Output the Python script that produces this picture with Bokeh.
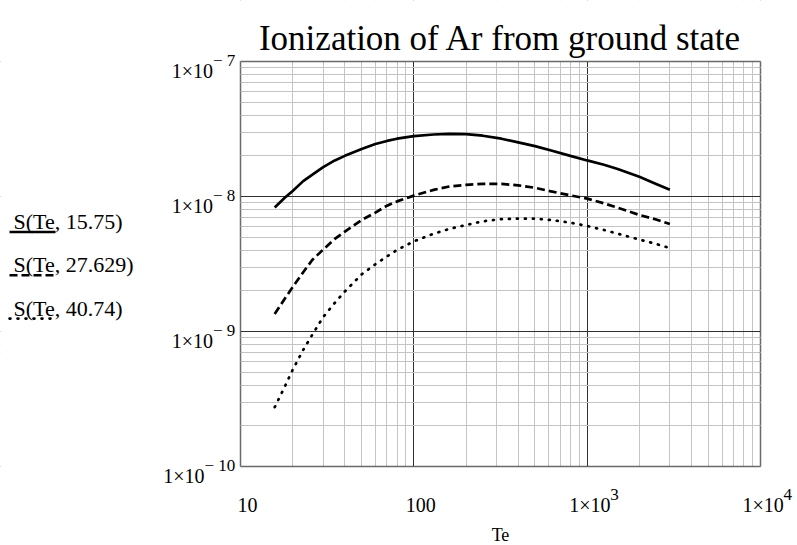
from bokeh.plotting import figure
from bokeh.models import (FixedTicker, Grid, Range1d, BoxAnnotation,
                          ColumnDataSource)
from bokeh.core.properties import value
from bokeh.embed import file_html
from bokeh.resources import INLINE

# ---- data ----
Te = [15.75, 18, 20, 23, 26, 30, 35, 40, 50, 60, 70, 80, 100, 130, 160, 200,
      250, 320, 400, 500, 620, 800, 1000, 1250, 1500, 2000, 2500, 3000]
S_15_75 = [0.83e-8, 0.98e-8, 1.10e-8, 1.30e-8, 1.45e-8, 1.65e-8, 1.85e-8, 2.0e-8,
           2.25e-8, 2.45e-8, 2.58e-8, 2.68e-8, 2.80e-8, 2.88e-8, 2.91e-8, 2.90e-8,
           2.82e-8, 2.68e-8, 2.52e-8, 2.36e-8, 2.19e-8, 2.0e-8, 1.85e-8, 1.72e-8,
           1.60e-8, 1.40e-8, 1.24e-8, 1.12e-8]
S_27_629 = [1.35e-9, 1.75e-9, 2.13e-9, 2.75e-9, 3.4e-9, 4.05e-9, 4.85e-9, 5.5e-9,
            6.7e-9, 7.6e-9, 8.55e-9, 9.2e-9, 10.15e-9, 11.2e-9, 11.85e-9, 12.2e-9,
            12.4e-9, 12.4e-9, 12.1e-9, 11.6e-9, 10.9e-9, 10.2e-9, 9.65e-9, 8.9e-9,
            8.25e-9, 7.3e-9, 6.75e-9, 6.25e-9]
S_40_74 = [2.75e-10, 3.9e-10, 5.2e-10, 7.3e-10, 9.5e-10, 12.8e-10, 16.3e-10, 19.8e-10,
           26.5e-10, 31.5e-10, 36.0e-10, 40.2e-10, 46.5e-10, 53e-10, 57.5e-10, 61.5e-10,
           65.5e-10, 68e-10, 68.5e-10, 68.5e-10, 67e-10, 64e-10, 60.5e-10, 56.5e-10,
           53e-10, 48e-10, 44.5e-10, 41.5e-10]

x_ticks = [10, 100, 1000, 10000]
x_base = ["10", "100", "1×10", "1×10"]
x_sup = ["", "", "3", "4"]
y_ticks = [1e-10, 1e-9, 1e-8, 1e-7]
y_base = ["1×10", "1×10", "1×10", "1×10"]
y_sup = ["− 10", "− 9", "− 8", "− 7"]
series_names = ["S(Te, 15.75)", "S(Te, 27.629)", "S(Te, 40.74)"]
title_text = "Ionization of Ar from ground state"
x_title = "Te"

FONT = value("Liberation Serif")
W, H = 797, 545
# plot-area geometry in canvas pixels
PL, PR, PT, PB = 240, 760, 61, 466
DX = (PR - PL) / 3.0
DY = (PB - PT) / 3.0


def X(px):
    return 10 ** (1 + (px - PL) / DX)


def Y(py):
    return 10 ** (-7 - (py - PT) / DY)


p = figure(width=W, height=H, x_axis_type="log", y_axis_type="log",
           x_range=Range1d(X(0), X(W)), y_range=Range1d(Y(H), Y(0)),
           x_axis_location=None, y_axis_location=None, min_border=0,
           output_backend="svg", toolbar_location=None,
           outline_line_color=None, background_fill_color="white",
           border_fill_color="white")
p.center = [r for r in p.center if not isinstance(r, Grid)]

minor_x = [m * 10 ** e for e in range(1, 4) for m in range(2, 10)]
minor_y = [m * 10.0 ** e for e in range(-10, -7) for m in range(2, 10)]
for dim, ticks, minor in ((0, x_ticks, minor_x), (1, y_ticks, minor_y)):
    g = Grid(dimension=dim, ticker=FixedTicker(ticks=ticks, minor_ticks=minor),
             grid_line_color="#303030", grid_line_width=1,
             minor_grid_line_color="#c4c4c4", minor_grid_line_width=1)
    p.add_layout(g)

# curves
styles = [("solid", "solid", "butt"), ("dashed", "8 4", "butt"),
          ("dotted", "1 7", "round")]
for ys, (nm, dash, cap) in zip([S_15_75, S_27_629, S_40_74], styles):
    p.line(Te, ys, line_color="black", line_width=2.7, line_dash=dash,
           line_cap=cap)

# white masks outside the plot area + frame
lo_x, hi_x = x_ticks[0], x_ticks[-1]
lo_y, hi_y = y_ticks[0], y_ticks[-1]
for kw in (dict(right=lo_x), dict(left=hi_x), dict(top=lo_y), dict(bottom=hi_y)):
    p.add_layout(BoxAnnotation(fill_color="white", fill_alpha=1.0,
                               line_color=None, **kw))
p.add_layout(BoxAnnotation(left=lo_x, right=hi_x, bottom=lo_y, top=hi_y,
                           fill_alpha=0, line_color="black", line_width=2))

TXT = dict(text_font=FONT, text_color="black", level="overlay")

# y tick labels: base + superscript
sup_w = [16 + 8.5 * (len(s) - 2) for s in y_sup]
ysrc = ColumnDataSource(dict(x=[lo_x] * len(y_ticks), y=y_ticks, base=y_base,
                             sup=y_sup, xb=[-3 - w for w in sup_w]))
p.text(x="x", y="y", text="base", source=ysrc, x_offset="xb", y_offset=9,
       text_align="right", text_baseline="alphabetic", text_font_size="20px", **TXT)
p.text(x="x", y="y", text="sup", source=ysrc, x_offset="xb", y_offset=-1,
       text_align="left", text_baseline="alphabetic", text_font_size="17px", **TXT)

# x tick labels
xb_off = [7 if s == "" else -18 for s in x_sup]
xb_align = ["center" if s == "" else "left" for s in x_sup]
xsrc = ColumnDataSource(dict(x=x_ticks, y=[lo_y] * len(x_ticks), base=x_base,
                             sup=x_sup, xo=xb_off, al=xb_align))
p.text(x="x", y="y", text="base", source=xsrc, x_offset="xo", y_offset=38,
       text_align="al", text_baseline="alphabetic", text_font_size="20px", **TXT)
p.text(x="x", y="y", text="sup", source=xsrc, x_offset=23, y_offset=28,
       text_align="left", text_baseline="alphabetic", text_font_size="17px", **TXT)

# title and axis title
p.text(x=[X(500)], y=[Y(38)], text=[title_text], text_align="center",
       text_baseline="alphabetic", text_font_size="35px", **TXT)
p.text(x=[X(500)], y=[Y(534)], text=[x_title], text_align="center",
       text_baseline="alphabetic", text_font_size="18px", **TXT)

# legend: name above a line sample
for i, (name, (nm, dash, cap)) in enumerate(zip(series_names, styles)):
    ty = 221 + 43.3 * i
    ly = 231.5 + 43.3 * i
    p.text(x=[X(13)], y=[Y(ty)], text=[name], text_align="left",
           text_baseline="alphabetic", text_font_size="22px", **TXT)
    p.line([X(9), X(55)], [Y(ly), Y(ly)], line_color="black", line_width=2.6,
           line_dash=dash, line_cap=cap, level="overlay")

open("out.html", "w").write(file_html(p, INLINE))
